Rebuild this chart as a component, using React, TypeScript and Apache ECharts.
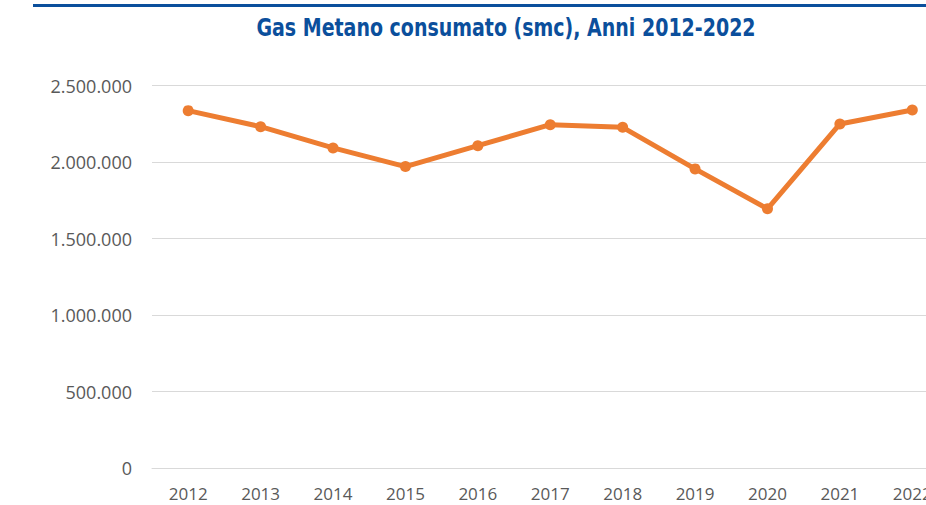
import React, { useEffect, useRef } from "react";
import * as echarts from "echarts";

const years = ["2012", "2013", "2014", "2015", "2016", "2017", "2018", "2019", "2020", "2021", "2022"];
const gasSmc = [2337000, 2232000, 2093000, 1971000, 2108000, 2245000, 2228000, 1956000, 1695000, 2250000, 2341000];
const titleText = "Gas Metano consumato (smc), Anni 2012-2022";

const fmt = (v: number) => String(Math.round(v)).replace(/\B(?=(\d{3})+(?!\d))/g, ".");

export default function App() {
  const ref = useRef<HTMLDivElement>(null);
  useEffect(() => {
    if (!ref.current) return;
    const chart = echarts.init(ref.current, undefined, { renderer: "svg" });
    chart.setOption({
      animation: false,
      backgroundColor: "#ffffff",
      graphic: [
        { type: "rect", left: 33, top: 4, shape: { width: 960, height: 3 }, style: { fill: "#0b4f9c" } },
        {
          type: "text",
          x: 506,
          y: 28,
          scaleX: 0.88,
          originX: 0,
          originY: 0,
          style: {
            text: titleText,
            fill: "#0b4f9c",
            font: "bold 24px 'DejaVu Sans Condensed', 'DejaVu Sans', sans-serif",
            align: "center",
            verticalAlign: "middle",
          },
        },
      ],
      grid: { left: 152, right: 11.5, top: 85.7, bottom: 37, containLabel: false },
      xAxis: {
        type: "category",
        data: years,
        boundaryGap: true,
        axisLine: { show: true, lineStyle: { color: "#d9d9d9", width: 1 } },
        axisTick: { show: false },
        axisLabel: { color: "#595959", fontSize: 17, lineHeight: 16, fontFamily: "Open Sans", margin: 17 },
      },
      yAxis: {
        type: "value",
        min: 0,
        max: 2500000,
        interval: 500000,
        axisLine: { show: false },
        axisTick: { show: false },
        splitLine: { lineStyle: { color: "#d9d9d9", width: 1 } },
        axisLabel: { color: "#595959", fontSize: 18, fontFamily: "Open Sans", margin: 20, formatter: (v: number) => fmt(v) },
      },
      series: [
        {
          type: "line",
          data: gasSmc,
          symbol: "circle",
          symbolSize: 11,
          lineStyle: { color: "#ed7d31", width: 5 },
          itemStyle: { color: "#ed7d31" },
        },
      ],
    });
    return () => chart.dispose();
  }, []);
  return (
    <div style={{ position: "fixed", left: 0, top: 0, width: 926, height: 505, overflow: "hidden", background: "#fff" }}>
      <div ref={ref} style={{ width: 960, height: 505 }} />
    </div>
  );
}
